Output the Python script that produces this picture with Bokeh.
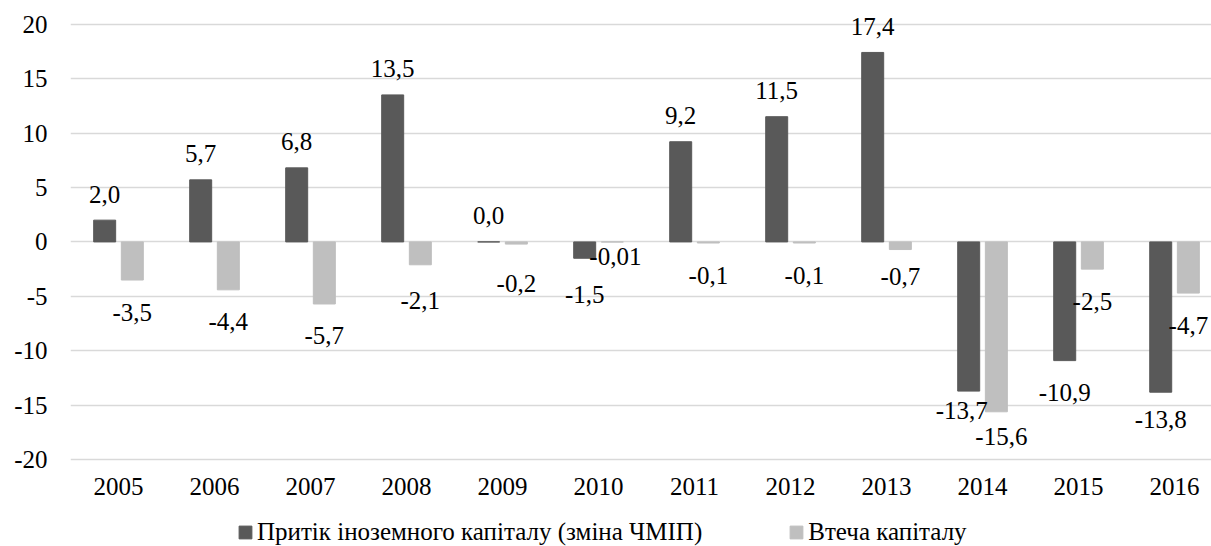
import numpy as np
from bokeh.plotting import figure
from bokeh.models import ColumnDataSource, Range1d, FixedTicker, Legend, LegendItem
from bokeh.core.properties import value
from bokeh.embed import file_html
from bokeh.resources import INLINE

# ---- data -------------------------------------------------------------
years = ["2005", "2006", "2007", "2008", "2009", "2010",
         "2011", "2012", "2013", "2014", "2015", "2016"]
inflow = [2.0, 5.7, 6.8, 13.5, 0.0, -1.5, 9.2, 11.5, 17.4, -13.7, -10.9, -13.8]
flight = [-3.5, -4.4, -5.7, -2.1, -0.2, -0.01, -0.1, -0.1, -0.7, -15.6, -2.5, -4.7]
series_names = ["Притік іноземного капіталу (зміна ЧМІП)", "Втеча капіталу"]
y_ticks = [-20, -15, -10, -5, 0, 5, 10, 15, 20]

# ---- style ------------------------------------------------------------
FONT = "'Liberation Serif', 'Times New Roman', serif"
FS = "25px"
DARK = "#595959"
LIGHT = "#bfbfbf"
GRID = "#d9d9d9"
BAR_W = 0.229
SHIFT = 0.144

# hand-placed value labels: (dx, dy) pixel nudges from the default spot
nudges = {
    ("inflow", 5): (0, 4),
    ("inflow", 9): (-7, -13),
    ("inflow", 11): (0, -5),
    ("flight", 3): (0, 4),
    ("flight", 4): (0, 7),
    ("flight", 5): (3, -18),
    ("flight", 8): (0, -5),
    ("flight", 9): (5, -7),
}


def fmt(v):
    s = f"{v:.1f}" if round(v, 1) == v else f"{v:.2f}"
    return s.replace(".", ",")


def label_source(vals, xs, key):
    dx, dy = [], []
    for i, v in enumerate(vals):
        ox, oy = (0, -26) if v >= 0 else (0, 32)
        nx, ny = nudges.get((key, i), (0, 0))
        dx.append(ox + nx)
        dy.append(oy + ny)
    return ColumnDataSource(dict(x=xs, y=vals, text=[fmt(v) for v in vals],
                                 dx=dx, dy=dy))


idx = np.arange(len(years))
x_in = idx - SHIFT
x_fl = idx + SHIFT

# the frame fills the whole height so labels above the top bar and the
# legend below the axis are not clipped
p = figure(width=1211, height=546, output_backend="svg", toolbar_location=None,
           x_range=Range1d(-0.5, 11.385), y_range=Range1d(-27.97, 22.17),
           min_border_left=70, min_border_right=0, min_border_top=0,
           min_border_bottom=0)
p.outline_line_color = None
p.background_fill_color = "white"
p.border_fill_color = "white"

r_in = p.vbar(x=x_in, top=inflow, width=BAR_W, color=DARK)
r_fl = p.vbar(x=x_fl, top=flight, width=BAR_W, color=LIGHT)

for src in (label_source(inflow, x_in, "inflow"), label_source(flight, x_fl, "flight")):
    p.text(x="x", y="y", text="text", source=src, x_offset="dx", y_offset="dy",
           text_align="center", text_baseline="alphabetic",
           text_font=value(FONT), text_font_size=FS, text_color="black")

# axes
p.xgrid.grid_line_color = None
p.ygrid.grid_line_color = GRID
p.ygrid.grid_line_width = 1.3
p.ygrid.ticker = FixedTicker(ticks=y_ticks)

p.yaxis.ticker = FixedTicker(ticks=y_ticks)
p.yaxis.major_label_overrides = {t: str(t) for t in y_ticks}
p.xaxis.ticker = FixedTicker(ticks=list(idx))
p.xaxis.major_label_overrides = {int(i): y for i, y in zip(idx, years)}
p.xaxis.fixed_location = y_ticks[0]
for ax in (p.xaxis[0], p.yaxis[0]):
    ax.axis_line_color = None
    ax.major_tick_line_color = None
    ax.minor_tick_line_color = None
    ax.major_tick_out = 0
    ax.major_tick_in = 0
    ax.major_label_text_font = FONT
    ax.major_label_text_font_size = FS
    ax.major_label_text_color = "black"
p.yaxis.major_label_standoff = 23
p.xaxis.major_label_standoff = 18

legend = Legend(items=[LegendItem(label=series_names[0], renderers=[r_in]),
                       LegendItem(label=series_names[1], renderers=[r_fl])],
                orientation="horizontal", location=(167, 0),
                glyph_width=16, glyph_height=16, label_standoff=4, spacing=86,
                padding=0, margin=0, border_line_color=None,
                background_fill_alpha=0,
                label_text_font=FONT, label_text_font_size=FS,
                label_text_color="black")
p.add_layout(legend)

open("out.html", "w").write(file_html(p, INLINE))
